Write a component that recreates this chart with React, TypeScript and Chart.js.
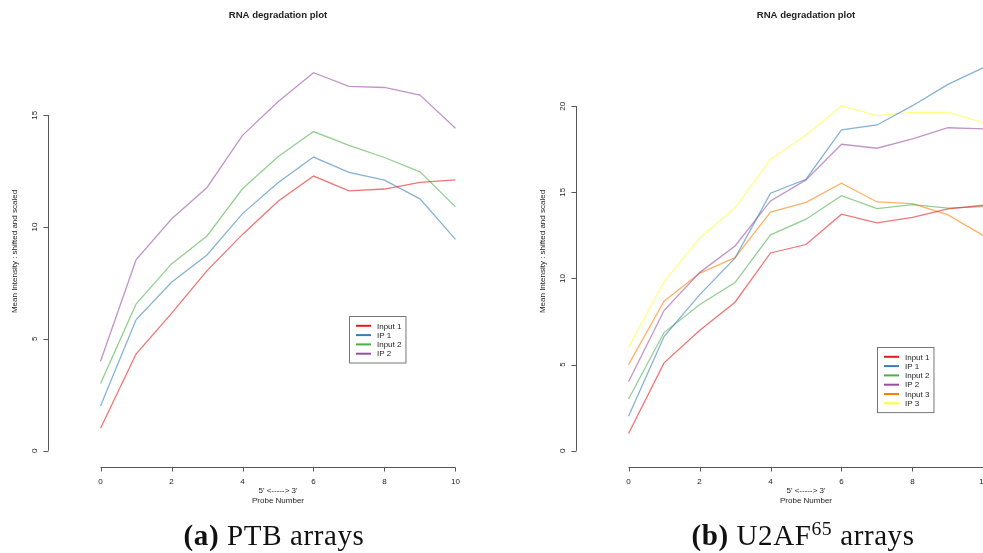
import React, { useEffect, useRef } from "react";
import { Chart, registerables } from "chart.js";

Chart.register(...registerables);

const probes = [0, 1, 2, 3, 4, 5, 6, 7, 8, 9, 10];
const xTicks = [0, 2, 4, 6, 8, 10];

// (a) PTB arrays
const ptbLabels = ["Input 1", "IP 1", "Input 2", "IP 2"];
const ptbInput1 = [1.0, 4.32, 6.14, 8.05, 9.67, 11.15, 12.28, 11.62, 11.7, 12.0, 12.11];
const ptbIP1 = [2.0, 5.85, 7.53, 8.75, 10.6, 11.98, 13.13, 12.44, 12.1, 11.26, 9.45];
const ptbInput2 = [3.0, 6.55, 8.35, 9.6, 11.71, 13.14, 14.27, 13.65, 13.11, 12.47, 10.9];
const ptbIP2 = [4.0, 8.53, 10.36, 11.77, 14.1, 15.6, 16.9, 16.29, 16.24, 15.9, 14.42];
const ptbYTicks = [0, 5, 10, 15];

// (b) U2AF65 arrays
const u2Labels = ["Input 1", "IP 1", "Input 2", "IP 2", "Input 3", "IP 3"];
const u2Input1 = [1.0, 5.1, 6.98, 8.62, 11.48, 11.97, 13.73, 13.23, 13.55, 14.04, 14.25];
const u2IP1 = [2.0, 6.63, 9.05, 11.18, 14.95, 15.76, 18.62, 18.91, 20.03, 21.27, 22.24];
const u2Input2 = [3.0, 6.86, 8.47, 9.76, 12.53, 13.44, 14.81, 14.06, 14.29, 14.08, 14.17];
const u2IP2 = [4.0, 8.14, 10.34, 11.89, 14.5, 15.72, 17.79, 17.56, 18.1, 18.75, 18.68];
const u2Input3 = [5.0, 8.68, 10.3, 11.21, 13.85, 14.42, 15.53, 14.44, 14.35, 13.69, 12.49];
const u2IP3 = [6.0, 9.82, 12.34, 14.11, 16.92, 18.33, 20.03, 19.45, 19.64, 19.64, 19.04];
const u2YTicks = [0, 5, 10, 15, 20];

const set1 = ["#E41A1C", "#377EB8", "#4DAF4A", "#984EA3", "#FF7F00", "#FFFF33"];

const FONT = '"Liberation Sans", Arial, sans-serif';

function hexA(hex: string, a: number) {
  const r = parseInt(hex.slice(1, 3), 16);
  const g = parseInt(hex.slice(3, 5), 16);
  const b = parseInt(hex.slice(5, 7), 16);
  return `rgba(${r},${g},${b},${a})`;
}

const rPlotPlugin = {
  id: "rPlot",
  afterDraw(chart: any, _args: any, opts: any) {
    const { ctx, chartArea } = chart;
    const xs = chart.scales.x;
    const ys = chart.scales.y;
    const axisColor = "#555";
    const textColor = "#222";
    ctx.save();
    ctx.lineWidth = 1;
    ctx.strokeStyle = axisColor;
    ctx.fillStyle = textColor;

    // Title
    const cx = (chartArea.left + chartArea.right) / 2;
    ctx.font = `bold 9.6px ${FONT}`;
    ctx.textAlign = "center";
    ctx.textBaseline = "middle";
    ctx.fillText(opts.title, cx, 15);

    // Y axis
    const yt: number[] = opts.yTicks;
    const ax = Math.round(chartArea.left) + 0.5;
    ctx.beginPath();
    ctx.moveTo(ax, ys.getPixelForValue(yt[0]));
    ctx.lineTo(ax, ys.getPixelForValue(yt[yt.length - 1]));
    yt.forEach((v) => {
      const py = Math.round(ys.getPixelForValue(v)) + 0.5;
      ctx.moveTo(ax, py);
      ctx.lineTo(ax - 5, py);
    });
    ctx.stroke();
    ctx.font = `8px ${FONT}`;
    yt.forEach((v) => {
      const py = ys.getPixelForValue(v);
      ctx.save();
      ctx.translate(ax - 14, py);
      ctx.rotate(-Math.PI / 2);
      ctx.textAlign = "center";
      ctx.textBaseline = "middle";
      ctx.fillText(String(v), 0, 0);
      ctx.restore();
    });
    // Y title
    ctx.save();
    ctx.translate(15, (chartArea.top + chartArea.bottom) / 2 + 4);
    ctx.rotate(-Math.PI / 2);
    ctx.textAlign = "center";
    ctx.textBaseline = "middle";
    ctx.fillText("Mean Intensity : shifted and scaled", 0, 0);
    ctx.restore();

    // X axis
    const xt: number[] = opts.xTicks;
    const ay = Math.round(chartArea.bottom) + 0.5;
    ctx.beginPath();
    ctx.moveTo(xs.getPixelForValue(xt[0]), ay);
    ctx.lineTo(xs.getPixelForValue(xt[xt.length - 1]), ay);
    xt.forEach((v) => {
      const px = Math.round(xs.getPixelForValue(v)) + 0.5;
      ctx.moveTo(px, ay);
      ctx.lineTo(px, ay + 4);
    });
    ctx.stroke();
    ctx.textAlign = "center";
    ctx.textBaseline = "middle";
    xt.forEach((v) => {
      ctx.fillText(String(v), xs.getPixelForValue(v), ay + 14);
    });
    ctx.fillText("5' <-----> 3'", cx, ay + 23.5);
    ctx.fillText("Probe Number", cx, ay + 33);

    // Legend at data coords (7, 6)
    const lx = Math.round(xs.getPixelForValue(opts.legendAt[0])) + 0.5;
    const ly = Math.round(ys.getPixelForValue(opts.legendAt[1])) + 0.5;
    const items = chart.data.datasets;
    let maxW = 0;
    items.forEach((d: any) => {
      maxW = Math.max(maxW, ctx.measureText(d.label).width);
    });
    const rowH = 9.3;
    const bw = 28 + maxW + 4;
    const bh = rowH * (items.length + 1);
    ctx.strokeStyle = "#777";
    ctx.strokeRect(lx, ly, bw, bh);
    ctx.textAlign = "left";
    items.forEach((d: any, i: number) => {
      const ry = ly + rowH * (i + 1);
      ctx.strokeStyle = d.legendColor;
      ctx.lineWidth = 2;
      ctx.beginPath();
      ctx.moveTo(lx + 6.5, ry);
      ctx.lineTo(lx + 21.5, ry);
      ctx.stroke();
      ctx.fillStyle = textColor;
      ctx.fillText(d.label, lx + 27.5, ry + 0.5);
    });
    ctx.restore();
  },
};

type PanelProps = {
  labels: string[];
  series: number[][];
  yMin: number;
  yMax: number;
  yTicks: number[];
};

function Panel({ labels, series, yMin, yMax, yTicks }: PanelProps) {
  const ref = useRef<HTMLCanvasElement | null>(null);
  useEffect(() => {
    if (!ref.current) return;
    const chart = new Chart(ref.current, {
      type: "line",
      data: {
        datasets: series.map((s, i) => ({
          label: labels[i],
          data: probes.map((p, j) => ({ x: p, y: s[j] })),
          borderColor: hexA(set1[i], 0.6),
          legendColor: set1[i],
          borderWidth: 1.3,
          pointRadius: 0,
          tension: 0,
          fill: false,
        })) as any,
      },
      options: {
        animation: false,
        responsive: false,
        devicePixelRatio: 1,
        layout: { padding: { left: 48, right: 20, top: 28, bottom: 86 } },
        scales: {
          x: { type: "linear", min: -1.48, max: 11.48, display: false },
          y: { type: "linear", min: yMin, max: yMax, display: false },
        },
        plugins: {
          legend: { display: false },
          tooltip: { enabled: false },
          rPlot: {
            title: "RNA degradation plot",
            yTicks,
            xTicks,
            legendAt: [7, 6],
          },
        } as any,
      },
      plugins: [rPlotPlugin],
    });
    return () => chart.destroy();
  }, []);
  return <canvas ref={ref} width={528} height={553} />;
}

const captionStyle: React.CSSProperties = {
  position: "absolute",
  top: 518,
  fontFamily: '"Liberation Serif", "Times New Roman", serif',
  fontSize: 29,
  lineHeight: "34px",
  color: "#111",
  whiteSpace: "nowrap",
  transform: "translateX(-50%)",
  letterSpacing: "0.6px",
};

export default function App() {
  return (
    <div
      style={{
        position: "fixed",
        left: 0,
        top: 0,
        width: 983,
        height: 553,
        overflow: "hidden",
        background: "#fff",
      }}
    >
      <div style={{ position: "absolute", left: 0, top: 0 }}>
        <Panel
          labels={ptbLabels}
          series={[ptbInput1, ptbIP1, ptbInput2, ptbIP2]}
          yMin={-0.73}
          yMax={18.9}
          yTicks={ptbYTicks}
        />
      </div>
      <div style={{ position: "absolute", left: 528, top: 0 }}>
        <Panel
          labels={u2Labels}
          series={[u2Input1, u2IP1, u2Input2, u2IP2, u2Input3, u2IP3]}
          yMin={-0.945}
          yMax={24.54}
          yTicks={u2YTicks}
        />
      </div>
      <div style={{ ...captionStyle, left: 274 }}>
        <b>(a)</b> PTB arrays
      </div>
      <div style={{ ...captionStyle, left: 803 }}>
        <b>(b)</b> U2AF<sup style={{ fontSize: "0.68em", verticalAlign: "0.5em", lineHeight: 0 }}>65</sup> arrays
      </div>
    </div>
  );
}
